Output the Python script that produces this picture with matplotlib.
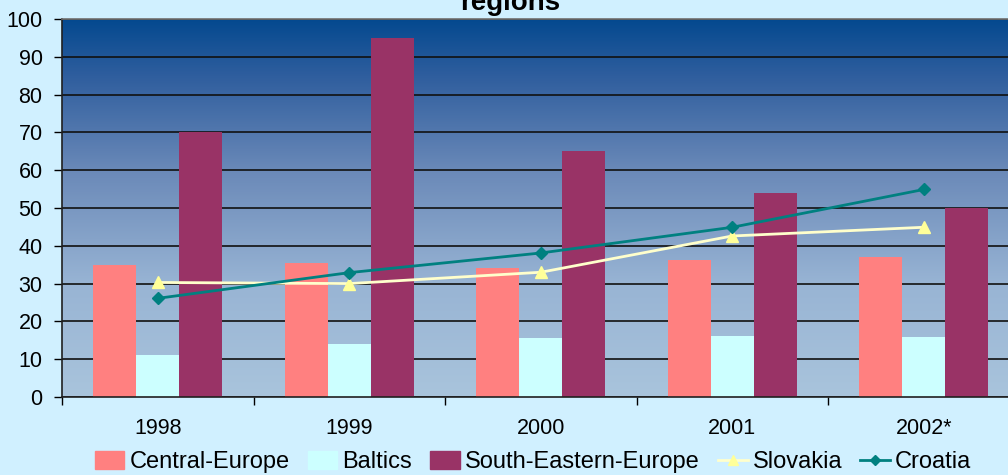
import numpy as np
import matplotlib.pyplot as plt
from matplotlib.patches import Patch
from matplotlib.lines import Line2D
from matplotlib.colors import LinearSegmentedColormap

plt.rcParams['font.family'] = ['Liberation Sans', 'DejaVu Sans']

# data
years = ["1998", "1999", "2000", "2001", "2002*"]
central_europe = [35, 35.4, 34, 36.2, 37]
baltics = [11, 14, 15.6, 16.1, 15.9]
south_eastern_europe = [70, 95, 65, 54, 50]
slovakia = [30.3, 30, 33, 42.6, 44.9]
croatia = [26.1, 32.9, 38.1, 44.9, 54.9]

bg = "#D0F0FF"

fig = plt.figure(figsize=(10.08, 4.75), dpi=100, facecolor=bg)
ax = fig.add_axes([62/1008, 78/475, 957.5/1008, 378/475])

x = np.arange(len(years))
w = 0.2245

# gradient plot area, dark blue on top fading to pale blue
cmap = LinearSegmentedColormap.from_list(
    "grad", [(0.0, "#A9C4DC"), (0.3, "#98B4D4"), (0.6, "#6A89B8"),
             (0.85, "#2F5E9E"), (1.0, "#04498F")])
grad = np.linspace(0, 1, 256).reshape(-1, 1)
ax.imshow(grad, cmap=cmap, origin="lower", aspect="auto",
          extent=[-0.5, len(years) - 0.5, 0, 100], zorder=0)

ax.bar(x - w, central_europe, w, color="#FF8080", zorder=2)
ax.bar(x, baltics, w, color="#CCFFFF", zorder=2)
ax.bar(x + w, south_eastern_europe, w, color="#993366", zorder=2)

ax.plot(x, slovakia, color="#FFFFCC", lw=2, marker="^", ms=9,
        mfc="#FFFF99", mec="#FFFF99", zorder=3)
ax.plot(x, croatia, color="#008080", lw=2, marker="D", ms=6,
        mfc="#008080", mec="#008080", zorder=3)

ax.set_xlim(-0.5, len(years) - 0.5)
ax.set_ylim(0, 100)
ax.set_yticks(np.arange(0, 101, 10))
ax.set_axisbelow(True)
ax.yaxis.grid(True, color="#111111", lw=1.2)

# year labels centred, ticks on category boundaries
ax.set_xticks(np.arange(len(years) + 1) - 0.5)
ax.set_xticklabels([])
ax.set_xticks(x, minor=True)
ax.set_xticklabels(years, minor=True)
ax.tick_params(axis="x", which="major", length=6, width=1, color="black")
ax.tick_params(axis="x", which="minor", length=0, pad=15, labelsize=15.5)
ax.tick_params(axis="y", length=6, width=1, pad=8, labelsize=15.5)

for s in ["left", "bottom"]:
    ax.spines[s].set_color("#202020")
    ax.spines[s].set_linewidth(1.2)
ax.spines["top"].set_color("#707070")
ax.spines["top"].set_linewidth(1.2)
ax.spines["right"].set_visible(False)

fig.text(0.506, 1 - 10/475, "regions", ha="center", va="baseline",
         fontsize=20, fontweight="bold")

handles = [
    Patch(color="#FF8080", label="Central-Europe"),
    Patch(color="#CCFFFF", label="Baltics"),
    Patch(color="#993366", label="South-Eastern-Europe"),
    Line2D([], [], color="#FFFFCC", lw=2, marker="^", ms=7,
           mfc="#FFFF99", mec="#FFFF99", label="Slovakia"),
    Line2D([], [], color="#008080", lw=2, marker="D", ms=5,
           mfc="#008080", mec="#008080", label="Croatia"),
]
fig.legend(handles=handles, loc="center", bbox_to_anchor=(533/1008, 13/475),
           ncol=5, frameon=False, fontsize=17, handlelength=1.27,
           handleheight=0.77, handletextpad=0.21, columnspacing=0.76,
           borderpad=0, borderaxespad=0)

fig.savefig("out.png", dpi=100, facecolor=bg)
